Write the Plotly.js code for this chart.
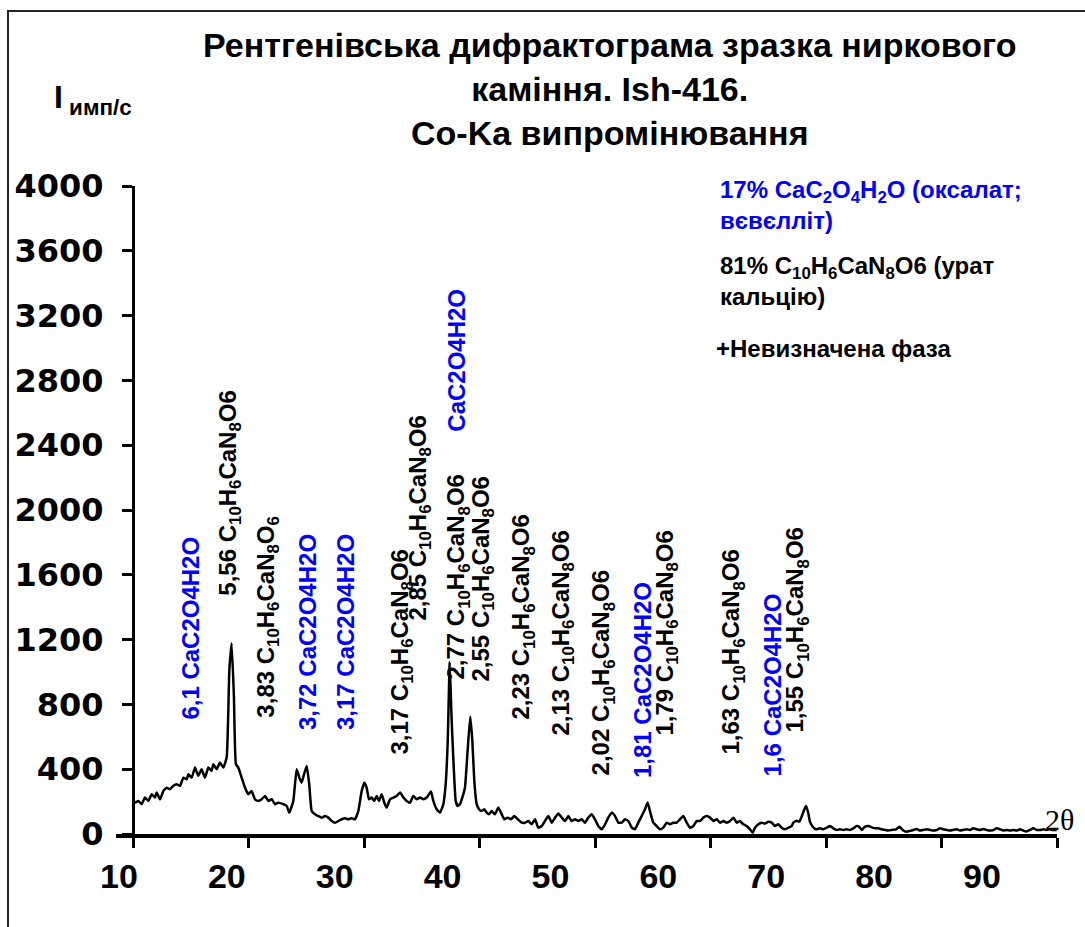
<!DOCTYPE html>
<html>
<head>
<meta charset="utf-8">
<script src="https://cdn.plot.ly/plotly-3.0.1.min.js"></script>
<style>
  html, body { margin: 0; padding: 0; background: #fff; overflow: hidden; }
  #chart { width: 1085px; height: 927px; }
  #frame { position: absolute; left: 7px; top: 10px; width: 1200px; height: 1000px;
           border-left: 2px solid #222; border-top: 2px solid #222; pointer-events: none; }
</style>
</head>
<body>
<div id="chart"></div>
<div id="frame"></div>
<script>
// ---------- data ----------
const twoTheta = [
  10.00, 10.17, 10.46, 10.75, 11.04, 11.33, 11.62, 11.90, 12.05, 12.34, 12.63, 12.92, 13.20, 13.49, 13.78,
  14.07, 14.36, 14.65, 14.79, 15.08, 15.37, 15.65, 15.94, 16.23, 16.52, 16.81, 16.95, 17.24, 17.53, 17.82,
  18.11, 18.34, 18.54, 18.74, 18.91, 19.12, 19.41, 19.70, 19.98, 20.27, 20.56, 20.85, 21.14, 21.43, 21.72,
  22.01, 22.29, 22.58, 23.01, 23.31, 23.53, 23.88, 24.17, 24.40, 24.60, 24.81, 25.04, 25.26, 25.47, 25.76,
  26.04, 26.34, 26.62, 26.91, 27.20, 27.49, 27.78, 28.07, 28.35, 28.64, 28.93, 29.22, 29.51, 29.80, 30.03,
  30.23, 30.43, 30.66, 30.89, 31.10, 31.30, 31.53, 31.76, 31.96, 32.25, 32.54, 32.83, 33.12, 33.41, 33.70,
  33.98, 34.27, 34.56, 34.85, 35.14, 35.43, 35.80, 36.00, 36.29, 36.58, 36.87, 37.07, 37.25, 37.42, 37.58,
  37.73, 37.94, 38.11, 38.31, 38.51, 38.74, 38.97, 39.20, 39.38, 39.55, 39.76, 39.96, 40.19, 40.42, 40.62,
  40.82, 41.05, 41.34, 41.63, 41.86, 42.15, 42.44, 42.73, 43.01, 43.31, 43.65, 43.94, 44.23, 44.52, 44.81,
  45.09, 45.38, 45.67, 45.96, 46.25, 46.54, 46.83, 47.12, 47.40, 47.69, 47.98, 48.27, 48.56, 48.85, 49.13,
  49.42, 49.71, 50.00, 50.29, 50.58, 50.87, 51.15, 51.44, 51.73, 52.02, 52.31, 52.60, 52.89, 53.18, 53.46,
  53.75, 54.04, 54.33, 54.56, 54.79, 55.05, 55.34, 55.63, 55.91, 56.21, 56.49, 56.78, 57.07, 57.36, 57.65,
  57.94, 58.23, 58.51, 58.80, 59.09, 59.38, 59.67, 59.96, 60.25, 60.54, 60.82, 61.11, 61.40, 61.69, 61.98,
  62.27, 62.55, 62.84, 63.13, 63.42, 63.65, 63.85, 64.14, 64.43, 64.72, 65.01, 65.30, 65.58, 65.87, 66.16,
  66.45, 66.74, 67.03, 67.17, 67.46, 67.69, 67.89, 68.10, 68.27, 68.47, 68.61, 68.85, 69.13, 69.48, 69.77,
  70.06, 70.35, 70.63, 70.93, 71.21, 71.50, 71.79, 72.08, 72.36, 72.66, 72.88, 73.09, 73.38, 73.66, 73.96,
  74.24, 74.53, 74.82, 75.11, 75.40, 75.69, 76.06, 76.35, 76.64, 76.99, 77.27, 77.56, 77.85, 78.14, 78.42,
  78.72, 79.00, 79.29, 79.58, 79.87, 80.16, 80.45, 80.74, 81.02, 81.32, 81.60, 81.89, 82.18, 82.47, 82.75,
  83.04, 83.33, 83.62, 83.91, 84.20, 84.49, 84.78, 85.06, 85.35, 85.64, 85.93, 86.22, 86.51, 86.80, 87.08,
  87.37, 87.66, 87.95, 88.24, 88.53, 88.82, 89.11, 89.39, 89.68, 89.97
];
const intensity = [
  215, 193, 204, 184, 225, 204, 245, 225, 256, 214, 266, 286, 276, 297, 307,
  297, 348, 338, 369, 348, 410, 359, 400, 348, 410, 390, 431, 400, 441, 410,
  472, 1008, 1178, 843, 431, 410, 348, 286, 245, 266, 214, 204, 214, 235, 204,
  214, 184, 193, 184, 173, 132, 204, 400, 348, 317, 369, 420, 307, 142, 122,
  111, 101, 111, 101, 80, 70, 80, 91, 97, 91, 97, 91, 142, 266, 317,
  286, 214, 225, 204, 235, 204, 245, 193, 163, 214, 225, 235, 256, 225, 204,
  193, 235, 214, 225, 214, 225, 262, 204, 153, 132, 184, 307, 575, 1060, 720,
  472, 204, 173, 184, 225, 286, 513, 725, 575, 328, 184, 153, 142, 153, 132,
  122, 142, 122, 163, 132, 91, 101, 91, 111, 91, 70, 70, 80, 60, 91,
  39, 49, 80, 111, 70, 101, 126, 101, 80, 111, 80, 91, 80, 91, 70,
  101, 122, 91, 49, 29, 60, 101, 132, 111, 70, 70, 91, 80, 39, 29,
  70, 111, 153, 194, 132, 70, 49, 29, 39, 70, 60, 70, 70, 91, 111,
  70, 39, 49, 80, 80, 101, 111, 101, 80, 91, 70, 80, 70, 80, 101,
  70, 80, 60, 49, 29, 8, 39, 60, 70, 64, 76, 70, 49, 60, 39,
  29, 39, 49, 70, 82, 76, 107, 148, 173, 128, 76, 45, 29, 35, 29,
  39, 49, 35, 25, 29, 25, 29, 25, 35, 49, 45, 25, 45, 49, 41,
  35, 35, 29, 25, 21, 25, 29, 45, 25, 14, 19, 25, 31, 21, 25,
  29, 25, 21, 25, 35, 29, 25, 21, 25, 29, 21, 25, 29, 25, 35,
  29, 25, 31, 25, 21, 25, 35, 29, 21, 25, 21, 25, 21, 29, 21,
  16, 25, 35, 25, 25, 29, 25, 29, 25, 25
];

// peak labels: text, phase, 2θ of the labelled reflection
const peakText = [
  "6,1 CaC2O4H2O",
  "5,56 C<sub>10</sub>H<sub>6</sub>CaN<sub>8</sub>O6",
  "3,83 C<sub>10</sub>H<sub>6</sub>CaN<sub>8</sub>O<sub>6</sub>",
  "3,72 CaC2O4H2O",
  "3,17 CaC2O4H2O",
  "3,17 C<sub>10</sub>H<sub>6</sub>CaN<sub>8</sub>O6",
  "2,85 C<sub>10</sub>H<sub>6</sub>CaN<sub>8</sub>O6",
  "CaC2O4H2O",
  "2,77 C<sub>10</sub>H<sub>6</sub>CaN<sub>8</sub>O6",
  "2,55 C<sub>10</sub>H<sub>6</sub>CaN<sub>8</sub>O6",
  "2,23 C<sub>10</sub>H<sub>6</sub>CaN<sub>8</sub>O6",
  "2,13 C<sub>10</sub>H<sub>6</sub>CaN<sub>8</sub>O6",
  "2,02 C<sub>10</sub>H<sub>6</sub>CaN<sub>8</sub>O6",
  "1,81 CaC2O4H2O",
  "1,79 C<sub>10</sub>H<sub>6</sub>CaN<sub>8</sub>O6",
  "1,63 C<sub>10</sub>H<sub>6</sub>CaN<sub>8</sub>O6",
  "1,6 CaC2O4H2O",
  "1,55 C<sub>10</sub>H<sub>6</sub>CaN<sub>8</sub>O6"
];
const peakPhase = ["ox","ur","ur","ox","ox","ur","ur","ox","ur","ur","ur","ur","ur","ox","ur","ur","ox","ur"];
const peakTwoTheta = [14.94, 18.40, 21.69, 25.06, 28.35, 33.29, 34.85, 38.05, 38.14, 40.30, 43.77, 47.23, 50.69, 54.07, 56.23, 61.95, 65.32, 67.49];

const phaseText = [
  "17% CaC<sub>2</sub>O<sub>4</sub>H<sub>2</sub>O (оксалат;<br>вєвєлліт)",
  "81% C<sub>10</sub>H<sub>6</sub>CaN<sub>8</sub>O6 (урат<br>кальцію)",
  "+Невизначена фаза"
];
const phaseKind = ["ox","ur","ur"];
const xTickVals = [10, 20, 30, 40, 50, 60, 70, 80, 90];
const xTickText = ["10", "20", "30", "40", "50", "60", "70", "80", "90"];

// ---------- layout positions / styles ----------
const labelBaseY = [691, 1456, 703, 629, 629, 475, 1302, 2474, 938, 932, 691, 592, 352, 333, 598, 475, 346, 611];
const phaseBlockY = [0.9707, 0.8541, 0.75];
const phaseBlockX = [0.6397, 0.6397, 0.6355];
const colorOf = {ox: "#0000FF", ur: "#000000"};
const ARIAL = "Liberation Sans, Arial, sans-serif";

const annotations = [];
peakText.forEach((t, i) => {
  annotations.push({
    text: t, x: peakTwoTheta[i], y: labelBaseY[i], xref: "x", yref: "y",
    textangle: -90, xanchor: "center", yanchor: "bottom", showarrow: false,
    font: {family: ARIAL, size: 24, weight: "bold", color: colorOf[peakPhase[i]]}
  });
});
phaseText.forEach((t, i) => {
  annotations.push({
    text: t, x: phaseBlockX[i], y: phaseBlockY[i], xref: "paper", yref: "paper",
    xanchor: "left", yanchor: "middle", showarrow: false, align: "left",
    font: {family: ARIAL, size: 24, weight: "bold", color: colorOf[phaseKind[i]]}
  });
});
annotations.push({
  text: "I<sub> имп/с</sub>", x: -0.068, y: 1.133, xref: "paper", yref: "paper",
  xanchor: "left", yanchor: "middle", showarrow: false,
  font: {family: ARIAL, size: 32, weight: "bold", color: "#000"}
});
annotations.push({
  text: "2θ", x: 1.003, y: 0.023, xref: "paper", yref: "paper",
  xanchor: "center", yanchor: "middle", showarrow: false,
  font: {family: "Liberation Serif, Times New Roman, serif", size: 30, color: "#000"}
});

const traces = [
  {x: twoTheta, y: intensity, type: "scatter", mode: "lines",
   line: {color: "#000", width: 2.5, shape: "spline", smoothing: 0.4},
   hoverinfo: "x+y", showlegend: false},
  {x: [50], y: [null], xaxis: "x2", yaxis: "y", type: "scatter", mode: "lines",
   hoverinfo: "skip", showlegend: false}
];

const layout = {
  width: 1085, height: 927,
  paper_bgcolor: "#fff", plot_bgcolor: "#fff",
  margin: {l: 116, r: 28, t: 186, b: 93},
  showlegend: false,
  title: {
    text: "Рентгенівська дифрактограма зразка ниркового<br>каміння. Ish-416.<br>Co-Ka випромінювання",
    x: 0.562, xanchor: "center", xref: "container",
    y: 1 - 57/927, yanchor: "top", yref: "container",
    font: {family: ARIAL, size: 34, weight: "bold", color: "#000"}
  },
  xaxis: {
    range: [8.528, 90], tick0: 10, dtick: 10, ticks: "outside", ticklen: 10, tickwidth: 3,
    tickcolor: "#000", showticklabels: false, showline: true, linewidth: 4, linecolor: "#000",
    showgrid: false, zeroline: false, anchor: "y", fixedrange: true
  },
  xaxis2: {
    overlaying: "x", anchor: "y", side: "bottom", range: [9.722, 96.953],
    tickmode: "array", tickvals: xTickVals, ticktext: xTickText,
    ticks: "", showline: false, showgrid: false, zeroline: false, ticklabelstandoff: 19,
    tickfont: {family: ARIAL, size: 34, weight: "bold", color: "#000"}, fixedrange: true
  },
  yaxis: {
    range: [0, 4000], tick0: 0, dtick: 400, ticks: "outside", ticklen: 10, tickwidth: 3,
    tickcolor: "#000", showline: true, linewidth: 3, linecolor: "#000",
    showgrid: false, zeroline: false, anchor: "free", position: 17/941,
    ticklabelstandoff: 12,
    tickfont: {family: "DejaVu Sans, sans-serif", size: 32, weight: "bold", color: "#000"},
    fixedrange: true
  },
  annotations: annotations
};

Plotly.newPlot("chart", traces, layout, {displayModeBar: false, staticPlot: true});
</script>
</body>
</html>
